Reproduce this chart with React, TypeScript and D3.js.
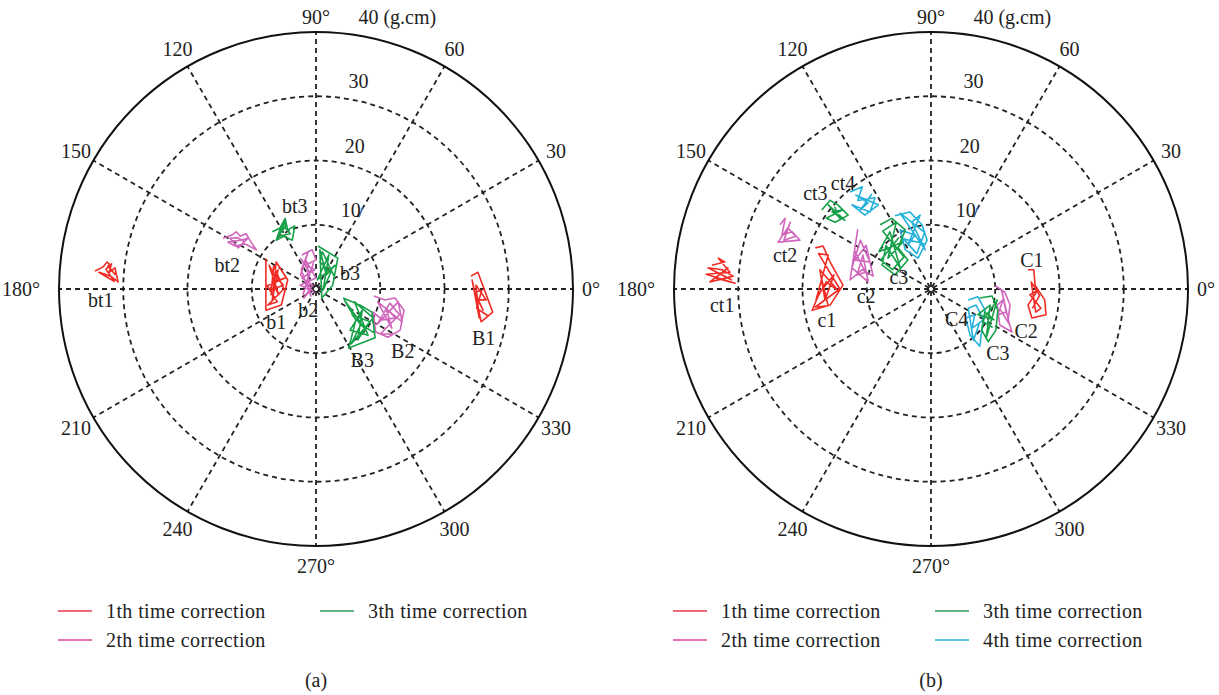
import React from "react";
import * as d3 from "d3";

type Pt = [number, number];

// unbalance readings as x / y components, in g.cm
// panel (a)
const bt1: Pt[] = [[-34.4, 2.8], [-33.2, 3.4], [-32.5, 4.2], [-31.9, 3.6], [-32.2, 2.6], [-31.3, 3.3], [-30.8, 1.1], [-31.8, 1.9], [-32.8, 2.3], [-33.8, 2.6], [-32.1, 1.6], [-31.4, 1.2], [-32.7, 3.1], [-31.8, 3.9], [-32.4, 3.6], [-31.2, 2.2]];
const bt2: Pt[] = [[-14.5, 7.9], [-13.1, 8.4], [-12.4, 8.9], [-11.8, 8.2], [-10.9, 8.6], [-10.3, 7.6], [-9.3, 6.1], [-11.0, 7.0], [-12.6, 6.7], [-13.7, 7.3], [-11.8, 7.6], [-10.6, 7.9], [-12.1, 6.4], [-13.4, 7.9], [-12.2, 8.0], [-11.2, 7.4]];
const bt3: Pt[] = [[-6.8, 8.9], [-5.6, 9.5], [-4.8, 11.0], [-4.4, 9.2], [-3.3, 9.8], [-3.7, 7.6], [-5.0, 8.2], [-6.2, 7.6], [-5.3, 10.1], [-4.0, 8.6], [-5.9, 8.2], [-4.7, 9.8], [-4.9, 10.4], [-5.6, 8.6]];
const b1: Pt[] = [[-7.8, 4.8], [-7.8, -3.3], [-5.4, -2.5], [-4.4, 1.4], [-6.2, 4.2], [-6.8, -1.7], [-5.9, 3.0], [-7.2, -0.2], [-5.1, 0.6], [-6.5, 2.2], [-7.3, 3.7], [-5.8, -0.9], [-6.8, 1.1], [-4.8, 1.7], [-7.6, 0.5], [-6.0, -2.0], [-7.5, -2.5], [-5.0, 0.0], [-6.6, 3.6], [-7.0, -1.0]];
const b2: Pt[] = [[-2.2, 5.3], [-0.6, 6.1], [0.0, 4.5], [-1.7, 3.7], [-0.2, 3.0], [-2.2, 1.7], [-0.5, 0.6], [-1.9, -1.4], [-0.9, -0.2], [-2.5, 0.6], [0.0, 1.7], [-1.6, 4.5], [-0.8, -1.1], [-2.3, 3.0], [-1.2, 5.8], [-2.4, 2.2], [-0.3, -0.6], [-1.5, 1.0], [-0.4, 4.0], [-2.0, -0.8], [-1.0, 2.6], [-2.4, 4.8]];
const b3: Pt[] = [[0.3, 6.7], [3.4, 4.8], [2.6, 0.6], [0.9, -1.4], [0.6, 6.1], [1.6, 2.2], [3.0, 3.7], [0.2, 1.4], [2.0, 5.3], [1.1, -0.2], [2.3, 2.6], [0.6, 4.2], [1.0, 5.8], [2.8, 2.0]];
const B1: Pt[] = [[24.1, 2.0], [25.2, 2.6], [27.5, -3.6], [25.7, -5.1], [24.3, 1.4], [25.4, -4.5], [24.9, 0.6], [26.5, -1.7], [25.2, -1.7], [26.0, -3.3], [24.7, -0.5], [25.8, -0.2], [25.0, -3.0], [26.8, -4.2]];
const B2: Pt[] = [[9.0, -1.1], [10.7, -1.7], [12.3, -1.4], [13.7, -3.3], [13.1, -6.4], [11.2, -7.5], [9.3, -6.7], [8.9, -3.6], [10.3, -4.8], [12.4, -4.5], [10.9, -3.0], [11.8, -6.1], [9.6, -2.0], [13.4, -5.1], [12.8, -2.0], [9.5, -5.5], [11.5, -2.2], [13.0, -4.0], [10.0, -7.0], [12.0, -7.0]];
const B3: Pt[] = [[4.2, -1.4], [6.8, -2.5], [8.7, -3.6], [9.2, -7.6], [5.1, -9.2], [6.2, -4.8], [4.4, -1.7], [7.8, -6.4], [5.6, -4.0], [8.4, -5.1], [6.5, -7.9], [7.2, -3.3], [5.3, -6.4], [8.1, -7.2], [6.0, -2.0], [8.9, -4.5], [5.5, -8.5], [7.0, -5.5], [9.0, -6.8]];

// panel (b)
const ct1: Pt[] = [[-34.1, 3.7], [-32.1, 4.2], [-33.1, 4.8], [-31.3, 2.6], [-35.0, 2.3], [-30.5, 0.9], [-33.6, 1.7], [-31.6, 3.3], [-34.4, 1.1], [-30.8, 2.0], [-32.5, 3.0], [-34.7, 3.3], [-31.0, 1.4]];
const ct2: Pt[] = [[-23.5, 10.0], [-22.7, 11.0], [-23.2, 8.4], [-21.6, 8.9], [-20.4, 7.6], [-23.8, 7.3], [-22.3, 9.5], [-21.0, 8.2], [-22.9, 7.6], [-21.9, 10.4], [-22.6, 8.6]];
const ct3: Pt[] = [[-17.0, 12.3], [-15.7, 13.8], [-14.5, 13.1], [-12.9, 11.5], [-14.9, 10.4], [-16.3, 11.0], [-13.8, 12.3], [-15.4, 12.0], [-13.4, 10.7], [-16.0, 13.1], [-14.2, 11.0], [-15.0, 12.8]];
const ct4: Pt[] = [[-12.6, 15.1], [-10.7, 15.9], [-11.4, 13.8], [-8.7, 14.2], [-9.5, 12.0], [-12.3, 13.1], [-10.3, 11.5], [-8.2, 13.1], [-11.7, 14.6], [-9.8, 13.4], [-11.0, 12.3], [-9.2, 14.8]];
const c1: Pt[] = [[-18.0, 6.4], [-16.8, 6.7], [-15.7, 4.2], [-13.7, 0.6], [-15.7, -2.5], [-18.5, -3.3], [-17.3, -0.5], [-15.1, 2.2], [-16.5, -1.7], [-17.3, 3.0], [-14.5, -0.2], [-16.3, 1.1], [-17.9, -1.7], [-16.0, 5.3], [-17.5, 5.5], [-14.2, 0.0], [-18.0, -2.8], [-16.0, -2.6], [-17.0, 1.5]];
const c2: Pt[] = [[-11.4, 9.3], [-12.6, 1.4], [-10.7, 3.0], [-9.0, 2.0], [-10.1, 6.8], [-11.8, 4.5], [-9.5, 4.2], [-11.0, 7.6], [-12.3, 3.3], [-9.8, 1.1], [-10.6, 5.3], [-11.5, 2.2], [-10.2, 2.6], [-11.9, 6.0]];
const c3: Pt[] = [[-7.9, 10.0], [-6.1, 11.0], [-4.0, 9.2], [-5.1, 6.4], [-3.6, 4.5], [-5.6, 2.2], [-7.6, 3.7], [-7.0, 6.8], [-4.8, 3.3], [-6.4, 8.9], [-8.1, 5.8], [-4.4, 7.3], [-6.7, 4.8], [-5.4, 10.4], [-7.5, 9.0], [-4.2, 5.0], [-6.0, 3.0], [-7.8, 4.5], [-5.0, 8.0]];
const c4: Pt[] = [[-5.6, 11.4], [-3.3, 12.0], [-1.4, 10.0], [-0.6, 7.6], [-2.0, 4.8], [-4.0, 6.1], [-4.8, 9.2], [-2.5, 8.4], [-3.6, 6.8], [-1.7, 11.5], [-3.0, 10.4], [-0.9, 6.1], [-4.8, 11.8], [-1.0, 8.8], [-2.2, 5.5], [-4.3, 7.8], [-0.8, 7.0]];
const C1: Pt[] = [[15.1, 3.0], [16.0, 3.0], [16.2, 0.6], [17.7, -1.7], [17.9, -4.0], [15.7, -4.5], [15.1, -2.5], [16.6, -0.2], [15.4, -0.9], [17.1, -3.0], [16.3, -3.6], [15.6, 1.1], [16.9, -1.0], [15.8, -3.0]];
const C2: Pt[] = [[10.0, 0.5], [11.5, -0.5], [12.3, -2.5], [12.0, -4.8], [12.6, -6.7], [10.7, -5.6], [10.3, -2.5], [11.2, -1.7], [10.4, -4.0], [11.7, -3.6], [11.0, -0.2], [12.2, -5.5], [10.8, -3.2]];
const C3: Pt[] = [[7.6, -1.4], [9.5, -1.1], [10.4, -3.3], [10.1, -6.4], [8.9, -8.2], [7.9, -6.4], [8.4, -3.6], [9.8, -4.8], [7.3, -4.0], [9.2, -2.5], [8.6, -7.6], [10.3, -1.7], [8.0, -5.0], [9.6, -6.0]];
const C4: Pt[] = [[5.8, -1.7], [7.3, -1.2], [8.4, -3.3], [7.9, -6.4], [7.6, -8.9], [6.1, -7.2], [5.4, -4.5], [6.8, -4.0], [6.4, -6.1], [8.2, -4.8], [7.0, -2.5], [5.8, -3.0], [6.6, -8.0], [7.5, -5.4]];

const stray: Pt[] = [[6.7, 11.2], [7.3, 12.8]];

// label anchors (g.cm)
const labelsA: [string, number, number][] = [
  ["bt1", -33.5, -1.7], ["bt2", -13.8, 3.7], ["bt3", -3.3, 12.9],
  ["b1", -6.2, -5.1], ["b2", -1.2, -3.3], ["b3", 5.3, 2.5],
  ["B3", 7.2, -11.0], ["B2", 13.5, -9.6], ["B1", 26.1, -7.6],
];
const labelsB: [string, number, number][] = [
  ["ct1", -32.5, -2.5], ["ct2", -22.7, 5.3], ["ct3", -18.0, 14.9], ["ct4", -13.7, 16.5],
  ["c1", -16.2, -4.8], ["c2", -10.1, -1.1], ["c3", -5.0, 1.9],
  ["C1", 15.7, 4.5], ["C2", 14.8, -6.5], ["C3", 10.4, -10.0], ["C4", 4.0, -4.7],
];

const ANGLES = d3.range(0, 360, 30);
const RINGS = [10, 20, 30];
const MAXV = 40;
const legendNames = ["1th time correction", "2th time correction", "3th time correction", "4th time correction"];

const COLORS = ["#f02c24", "#d065bc", "#16a048", "#25b2da"];
const LEGEND_COLORS = ["#e6384e", "#e2439a", "#2f9a5e", "#22b4d4"];

const W = 1219;
const H = 695;
const R = 257;
const CY = 289;
const FONT = "'Liberation Serif', 'Times New Roman', serif";
const FS = 20;

const angleText = (a: number) => (a % 90 === 0 ? `${a}°` : `${a}`);

type Series = { color: number; pts: Pt[] };

function Panel({ cx, series, labels, nLegend, caption }: { cx: number; series: Series[]; labels: [string, number, number][]; nLegend: number; caption: string }) {
  const x = d3.scaleLinear().domain([-MAXV, MAXV]).range([cx - R, cx + R]);
  const y = d3.scaleLinear().domain([-MAXV, MAXV]).range([CY + R, CY - R]);
  const rad = (v: number) => x(v) - x(0);
  const line = d3.line<Pt>().x((d) => x(d[0])).y((d) => y(d[1]));
  const outer = rad(MAXV);

  return (
    <g fontFamily={FONT} fill="#222">
      {/* spokes, drawn as full diameters */}
      {ANGLES.filter((a) => a < 180).map((a) => {
        const t = (a * Math.PI) / 180;
        return (
          <line key={"s" + a} x1={x(-MAXV * Math.cos(t))} y1={y(-MAXV * Math.sin(t))} x2={x(MAXV * Math.cos(t))} y2={y(MAXV * Math.sin(t))}
            stroke="#222" strokeWidth={1.8} strokeDasharray="5,4" strokeDashoffset={2} />
        );
      })}
      {RINGS.map((r) => (
        <circle key={"r" + r} cx={x(0)} cy={y(0)} r={rad(r)} fill="none" stroke="#222" strokeWidth={1.8} strokeDasharray="5,4" />
      ))}
      <circle cx={x(0)} cy={y(0)} r={outer} fill="none" stroke="#111" strokeWidth={2} />

      {/* ring labels */}
      {RINGS.map((r) => (
        <text key={"rl" + r} x={x(0) + 31 + rad(r) * 0.06} y={y(0) - rad(r) - 15} textAnchor="middle" dominantBaseline="central" fontSize={FS}>
          {r}
        </text>
      ))}
      <text x={x(0) + 37 + outer * 0.06 - 10} y={y(0) - outer - 15} dominantBaseline="central" fontSize={FS}>
        {MAXV} (g.cm)
      </text>

      {/* angle labels */}
      {ANGLES.map((a) => {
        const t = (a * Math.PI) / 180;
        const lr = a === 180 ? outer + 38 : a === 90 ? outer + 15 : a === 0 ? outer + 18 : outer + 20;
        return (
          <text key={"a" + a} x={x(0) + lr * Math.cos(t)} y={y(0) - lr * Math.sin(t)} textAnchor="middle" dominantBaseline="central" fontSize={FS}>
            {angleText(a)}
          </text>
        );
      })}

      {/* readings */}
      {series.map((s, i) => (
        <path key={"p" + i} d={line(s.pts) ?? ""} fill="none" stroke={COLORS[s.color]} strokeWidth={1.6} strokeLinejoin="round" />
      ))}
      <path d={line(stray) ?? ""} fill="none" stroke="#3a66b0" strokeWidth={1.5} />

      {labels.map(([t, lx, ly]) => (
        <text key={"l" + t} x={x(lx)} y={y(ly)} textAnchor="middle" dominantBaseline="central" fontSize={FS}>
          {t}
        </text>
      ))}

      {/* legend */}
      {legendNames.slice(0, nLegend).map((name, i) => {
        const col = i < 2 ? 0 : 1;
        const row = i % 2;
        const lx = cx - 258 + col * 262;
        const ly = 611 + row * 29;
        return (
          <g key={"lg" + i}>
            <line x1={lx} x2={lx + 34} y1={ly} y2={ly} stroke={LEGEND_COLORS[i]} strokeWidth={1.5} />
            <text x={lx + 48} y={ly} dominantBaseline="central" fontSize={FS} letterSpacing={0.4}>
              {name}
            </text>
          </g>
        );
      })}
      <text x={cx} y={680} textAnchor="middle" dominantBaseline="central" fontSize={FS}>
        {caption}
      </text>
    </g>
  );
}

export default function App() {
  const seriesA: Series[] = [
    { color: 0, pts: bt1 }, { color: 0, pts: b1 }, { color: 0, pts: B1 },
    { color: 1, pts: bt2 }, { color: 1, pts: b2 }, { color: 1, pts: B2 },
    { color: 2, pts: bt3 }, { color: 2, pts: b3 }, { color: 2, pts: B3 },
  ];
  const seriesB: Series[] = [
    { color: 0, pts: ct1 }, { color: 0, pts: c1 }, { color: 0, pts: C1 },
    { color: 1, pts: ct2 }, { color: 1, pts: c2 }, { color: 1, pts: C2 },
    { color: 3, pts: ct4 }, { color: 3, pts: c4 }, { color: 3, pts: C4 },
    { color: 2, pts: ct3 }, { color: 2, pts: c3 }, { color: 2, pts: C3 },
  ];
  return (
    <div style={{ position: "absolute", left: 0, top: 0 }}>
      <svg width={W} height={H} style={{ display: "block", background: "#fff" }}>
        <Panel cx={316} series={seriesA} labels={labelsA} nLegend={3} caption="(a)" />
        <Panel cx={931} series={seriesB} labels={labelsB} nLegend={4} caption="(b)" />
      </svg>
    </div>
  );
}
